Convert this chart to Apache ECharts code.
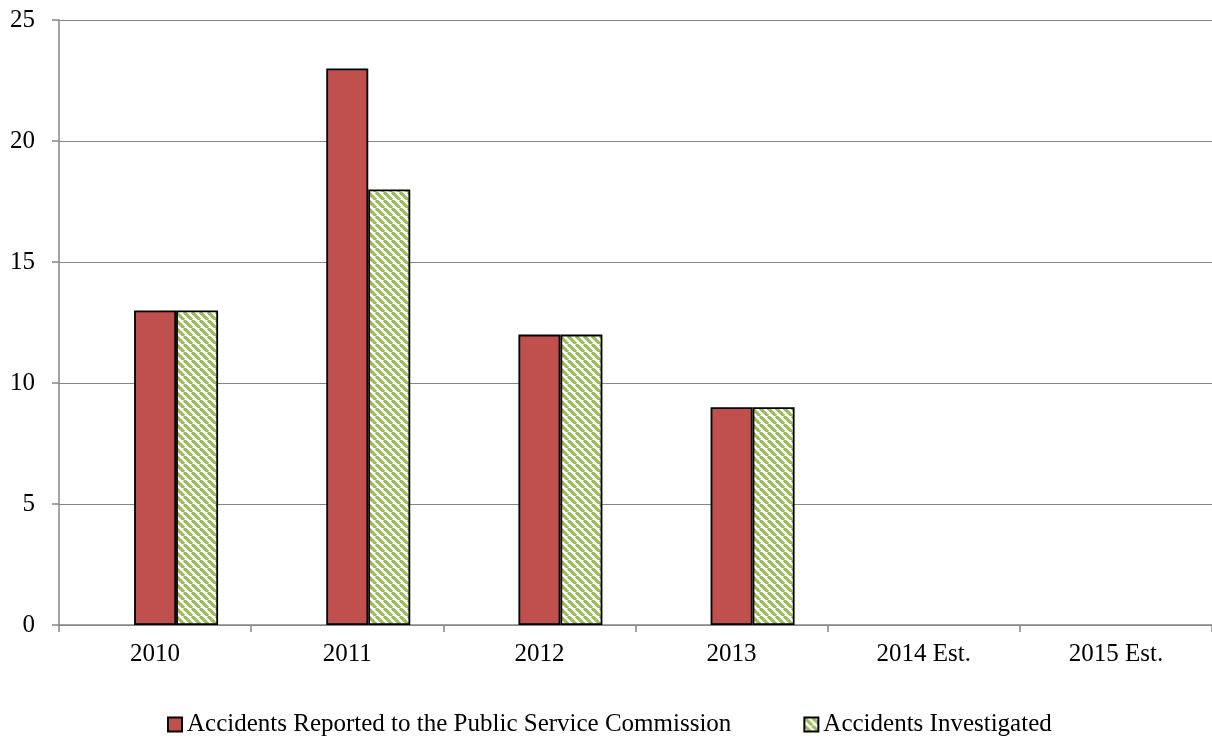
<!DOCTYPE html>
<html>
<head>
<meta charset="utf-8">
<script src="https://cdn.jsdelivr.net/npm/echarts@6/dist/echarts.min.js"></script>
<style>
  html, body { margin: 0; padding: 0; background: #fff; }
  #main { width: 1212px; height: 740px; }
</style>
</head>
<body>
<div id="main"></div>
<script>
// chart data
var years = ['2010', '2011', '2012', '2013', '2014 Est.', '2015 Est.'];
var reported = [13, 23, 12, 9, null, null];
var investigated = [13, 18, 12, 9, null, null];
var emptySlot = [null, null, null, null, null, null]; // blank first series in the source chart
var yTicks = [0, 5, 10, 15, 20, 25];

// diagonal green/white hatch
function makeHatch() {
  var c = document.createElement('canvas');
  c.width = 8; c.height = 8;
  var g = c.getContext('2d');
  g.fillStyle = '#ffffff';
  g.fillRect(0, 0, 8, 8);
  g.strokeStyle = '#9bbb59';
  g.lineWidth = 3.2;
  for (var k = -8; k <= 16; k += 8) {
    g.beginPath();
    g.moveTo(k, 0);
    g.lineTo(k + 8, 8);
    g.stroke();
  }
  return c;
}

var chart = echarts.init(document.getElementById('main'));
var font = '"Liberation Serif", "Times New Roman", serif';

chart.setOption({
  animation: false,
  textStyle: { fontFamily: font },
  grid: { left: 59, right: 0, top: 20, bottom: 115 },
  legend: {
    top: 707,
    left: 162,
    itemWidth: 14,
    itemHeight: 14,
    itemGap: 72,
    textStyle: { fontFamily: font, fontSize: 25, color: '#000' },
    data: [
      { name: 'Accidents Reported to the Public Service Commission', icon: 'rect' },
      { name: 'Accidents Investigated', icon: 'rect' }
    ]
  },
  xAxis: {
    type: 'category',
    data: years,
    axisLine: { lineStyle: { color: '#868686', width: 1.5 } },
    axisTick: { show: true, length: 7, lineStyle: { color: '#868686', width: 1.5 } },
    axisLabel: { fontFamily: font, fontSize: 25, color: '#000', margin: 17 }
  },
  yAxis: {
    type: 'value',
    min: yTicks[0],
    max: yTicks[yTicks.length - 1],
    interval: 5,
    axisLine: { show: true, lineStyle: { color: '#868686', width: 1.5 } },
    axisTick: { show: true, length: 7, lineStyle: { color: '#868686', width: 1.5 } },
    splitLine: { lineStyle: { color: '#868686', width: 1.2 } },
    axisLabel: { fontFamily: font, fontSize: 25, color: '#000', margin: 24 }
  },
  series: [
    {
      name: 'blank',
      type: 'bar',
      data: emptySlot,
      barWidth: 42,
      barGap: '0%',
      silent: true
    },
    {
      name: 'Accidents Reported to the Public Service Commission',
      type: 'bar',
      data: reported,
      barWidth: 42,
      barGap: '0%',
      itemStyle: { color: '#c0504d', borderColor: '#000', borderWidth: 1.8 }
    },
    {
      name: 'Accidents Investigated',
      type: 'bar',
      data: investigated,
      barWidth: 42,
      barGap: '0%',
      itemStyle: {
        color: { image: makeHatch(), repeat: 'repeat' },
        borderColor: '#000',
        borderWidth: 1.8
      }
    }
  ]
});
</script>
</body>
</html>
